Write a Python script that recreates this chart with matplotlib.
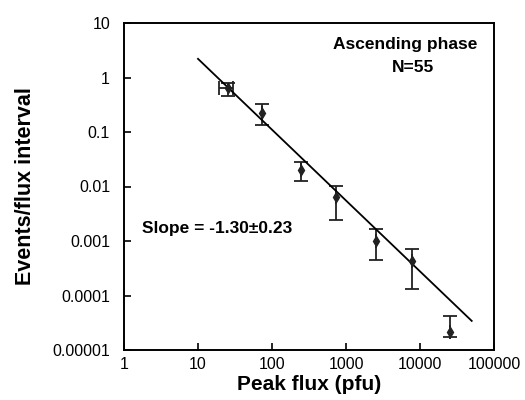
import matplotlib.pyplot as plt
from matplotlib.ticker import FixedLocator, FixedFormatter

plt.rcParams["font.family"] = ["Liberation Sans", "DejaVu Sans"]

# data
peak_flux = [25.4, 73, 247, 733, 2540, 7800, 25400]
events = [0.65, 0.22, 0.020, 0.0065, 0.0010, 0.00043, 0.000021]
err_low = [0.46, 0.135, 0.0126, 0.0024, 0.00045, 0.000132, 0.000017]
err_high = [0.79, 0.32, 0.028, 0.0102, 0.00166, 0.00071, 0.000042]
flux_low = [19.2, 73, 247, 733, 2540, 7800, 25400]
flux_high = [29.7, 73, 247, 733, 2540, 7800, 25400]

fit_x = [10, 50000]
fit_slope = -1.30
fit_norm = 2.2  # value at 10 pfu

x_ticks = [1, 10, 100, 1000, 10000, 100000]
x_labels = ["1", "10", "100", "1000", "10000", "100000"]
y_ticks = [1e-5, 1e-4, 1e-3, 1e-2, 1e-1, 1, 10]
y_labels = ["0.00001", "0.0001", "0.001", "0.01", "0.1", "1", "10"]

fig = plt.figure(figsize=(5.25, 4.0), dpi=100)
ax = fig.add_axes([124 / 525, 1 - 350 / 400, (494 - 124) / 525, (350 - 23) / 400])

yerr = [[e - lo for e, lo in zip(events, err_low)], [hi - e for e, hi in zip(events, err_high)]]
xerr = [[f - lo for f, lo in zip(peak_flux, flux_low)], [hi - f for f, hi in zip(peak_flux, flux_high)]]
ax.errorbar(peak_flux, events, yerr=yerr, xerr=xerr, fmt="d", color="#222222",
            markersize=5, elinewidth=1.3, capsize=5, capthick=1.3)

fit_y = [fit_norm * (x / 10) ** fit_slope for x in fit_x]
ax.plot(fit_x, fit_y, color="black", linewidth=1.3)

ax.set_xscale("log")
ax.set_yscale("log")
ax.set_xlim(1, 100000)
ax.set_ylim(1e-5, 10)
ax.xaxis.set_major_locator(FixedLocator(x_ticks))
ax.xaxis.set_major_formatter(FixedFormatter(x_labels))
ax.yaxis.set_major_locator(FixedLocator(y_ticks))
ax.yaxis.set_major_formatter(FixedFormatter(y_labels))
ax.minorticks_off()
ax.tick_params(direction="in", length=5, width=1.2, labelsize=11.5)
ax.tick_params(axis="x", pad=5)
ax.tick_params(axis="y", pad=10)
for spine in ax.spines.values():
    spine.set_linewidth(1.4)

ax.set_xlabel("Peak flux (pfu)", fontsize=15, fontweight="bold", labelpad=2)
ax.set_ylabel("Events/flux interval", fontsize=15.5, fontweight="bold", labelpad=12)

ax.text(0.76, 0.935, "Ascending phase", transform=ax.transAxes, ha="center", va="center",
        fontsize=12.5, fontweight="bold")
ax.text(0.78, 0.863, "N=55", transform=ax.transAxes, ha="center", va="center",
        fontsize=12.5, fontweight="bold")
ax.text(0.05, 0.372, "Slope = -1.30±0.23", transform=ax.transAxes, ha="left", va="center",
        fontsize=12.5, fontweight="bold")

fig.savefig("out.png", dpi=100)
